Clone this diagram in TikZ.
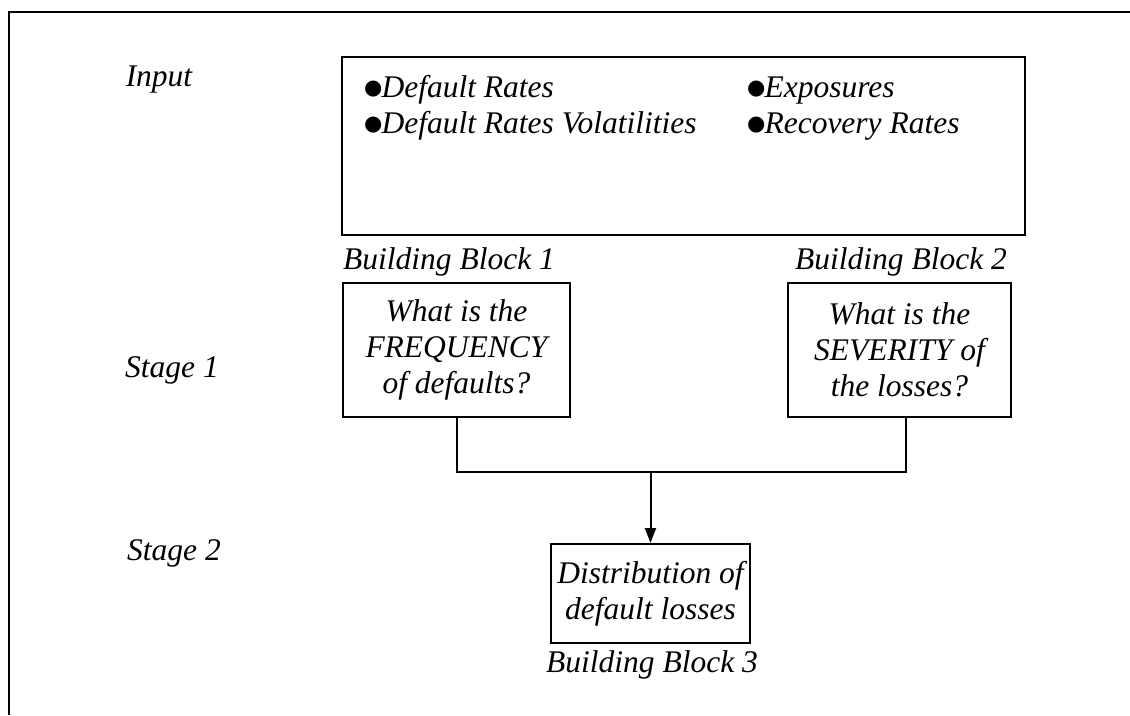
\documentclass[tikz,border=0pt]{standalone}
\usepackage{fontspec}
\setmainfont{Liberation Serif}
\newfontfamily\dejavu{DejaVu Sans}
\usetikzlibrary{arrows.meta,calc}
\newcommand{\mybul}{\raisebox{2.5pt}{\dejavu\upshape\fontsize{21}{21}\selectfont ●}\kern-1pt}
\begin{document}
\begin{tikzpicture}[x=1pt,y=-1pt,
  every node/.style={font=\fontsize{31.5}{36}\selectfont\itshape, inner sep=0pt},
  box/.style={draw, line width=2pt, align=center},
  lbl/.style={anchor=center},
  conn/.style={line width=2pt}
]
\useasboundingbox (0,0) rectangle (1130,715);
% open frame
\draw[line width=2.2pt] (9,715) -- (9,12) -- (1130,12);
% labels on the left
\node[lbl] (input) at (159,80) {Input};
\node[lbl] (stage1) at (172,370) {Stage 1};
\node[lbl] (stage2) at (174,553) {Stage 2};
% input box
\node[box, minimum width=683pt, minimum height=178pt] (inbox) at (683.5,146) {};
\node[anchor=base west, align=left] (ileft) at (364,133)
  {\mybul Default Rates\\\mybul Default Rates Volatilities};
\node[anchor=base west, align=left] (iright) at (747,133)
  {\mybul Exposures\\\mybul Recovery Rates};
% building blocks
\node[lbl] (bb1) at (449,262) {Building Block 1};
\node[box, minimum width=227pt, minimum height=134pt] (b1) at (456.5,350)
  {What is the\\FREQUENCY\\of defaults?};
\node[lbl] (bb2) at (901,262) {Building Block 2};
\node[box, minimum width=223pt, minimum height=134pt] (b2) at (899.5,350)
  {What is the\\SEVERITY of\\the losses?};
\node[box, minimum width=199pt, minimum height=99pt] (b3) at (650.5,593.5)
  {Distribution of\\default losses};
\node[lbl] (bb3) at (652,665) {Building Block 3};
% connectors
\coordinate (j) at (650.5,472);
\draw[conn] (b1.south) |- (j) -| ([xshift=6.5pt]b2.south);
\draw[conn, -{Triangle[length=15pt,width=11pt]}] (j) -- (b3.north);
\end{tikzpicture}
\end{document}
